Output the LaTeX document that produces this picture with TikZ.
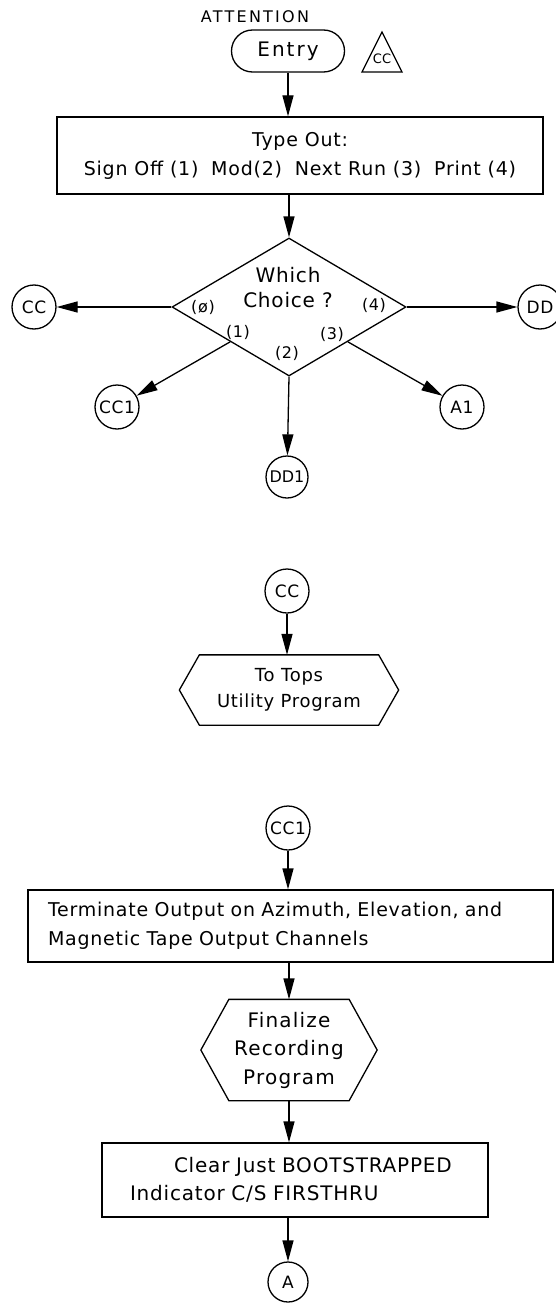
\documentclass[tikz,border=0pt]{standalone}
\usepackage{fontspec}
\setmainfont{DejaVu Sans}[LetterSpace=4]
\usetikzlibrary{arrows.meta,shapes.geometric,calc}
\begin{document}
\begin{tikzpicture}[x=1pt,y=-1pt,
  line width=1.3pt,
  flow/.style={-{Triangle[length=21pt,width=11pt]}},
  conn/.style={circle,draw,minimum size=44pt,inner sep=0pt,font=\fontsize{17}{19}\selectfont},
  procbox/.style={draw,rectangle,inner ysep=0pt},
  txt/.style={font=\fontsize{19}{29}\selectfont},
  lbl/.style={font=\fontsize{16}{18}\selectfont,inner sep=0pt}]
\useasboundingbox (0,0) rectangle (556,1303);

% ---- entry and type-out
\node[font=\fontsize{16}{18}\selectfont\addfontfeatures{LetterSpace=14}] (attn) at (255,17) {ATTENTION};
\node[draw,rounded corners=21pt,minimum width=113pt,minimum height=42pt,
      font=\fontsize{20}{22}\selectfont\addfontfeatures{LetterSpace=10}] (entry) at (288,51) {Entry};
\node[font=\fontsize{13}{15}\selectfont\addfontfeatures{LetterSpace=0},inner sep=0pt] (tri) at (382,59) {CC};
\draw (362,72) -- (382,32) -- (402,72) -- cycle;

\node[procbox,minimum width=486pt,minimum height=77pt,align=center,txt] (typeout) at (300,155.5)
  {Type Out:\\Sign Off (1)\hspace{6pt} Mod(2)\hspace{6pt} Next Run (3)\hspace{6pt} Print (4)};
\draw[flow] (entry) -- (entry |- typeout.north);

% ---- decision
\node[diamond,draw,minimum width=234pt,minimum height=138pt,inner sep=0pt] (choice) at (289,307) {};
\node[font=\fontsize{20}{25}\selectfont,align=center,inner sep=0pt] (q) at (288,288) {Which\\Choice ?};
\node[lbl] (l0) at (203,307) {(ø)};
\node[lbl] (l4) at (374,305) {(4)};
\node[lbl] (l1) at (238,332) {(1)};
\node[lbl] (l3) at (332,334) {(3)};
\node[lbl] (l2) at (287,353) {(2)};
\draw[flow] (typeout.south -| choice.north) -- (choice.north);

\node[conn] (cc0) at (34,307) {CC};
\node[conn] (dd0) at (540,307) {DD};
\node[conn] (cc1a) at (117,407) {CC1};
\node[conn] (a1) at (462,407) {A1};
\node[conn,minimum size=42pt,font=\fontsize{16}{18}\selectfont\addfontfeatures{LetterSpace=0}] (dd1) at (287,477) {DD1};
\draw[flow] (choice.west) -- (cc0);
\draw[flow] (choice.east) -- (dd0);
\draw[flow] ($(choice.west)!0.5!(choice.south)$) -- (cc1a);
\draw[flow] ($(choice.east)!0.5!(choice.south)$) -- (a1);
\draw[flow] (choice.south) -- (dd1);

% ---- CC: exit to utility program
\node[conn] (cc2) at (287,591) {CC};
\node[align=center,minimum width=178pt,minimum height=69pt,inner sep=0pt,
      font=\fontsize{18}{26}\selectfont] (tops) at (289,690) {To Tops\\Utility Program};
\draw (tops.north west) -- (tops.north east) -- ([xshift=20pt]tops.east)
  -- (tops.south east) -- (tops.south west) -- ([xshift=-20pt]tops.west) -- cycle;
\draw[flow] (cc2) -- (cc2 |- tops.north);

% ---- CC1: terminate and finalize
\node[conn] (cc1b) at (288,828) {CC1};
\node[procbox,minimum height=72pt,inner xsep=20pt,text width=485pt,align=left,txt] (term) at (290.5,926)
  {Terminate Output on Azimuth, Elevation, and\\Magnetic Tape Output Channels};
\draw[flow] (cc1b) -- (cc1b |- term.north);

\node[align=center,minimum width=119pt,minimum height=100pt,inner sep=0pt,
      font=\fontsize{20}{28.5}\selectfont\addfontfeatures{LetterSpace=6}] (final) at (289,1050) {Finalize\\Recording\\Program};
\draw (final.north west) -- (final.north east) -- ([xshift=28pt]final.east)
  -- (final.south east) -- (final.south west) -- ([xshift=-28pt]final.west) -- cycle;
\draw[flow] (term.south -| final.north) -- (final.north);

\node[procbox,minimum height=74pt,inner xsep=28pt,text width=330pt,align=left,
      font=\fontsize{20}{28}\selectfont] (clear) at (295,1180)
  {\hspace*{44pt}\makebox[0pt][l]{Clear Just BOOTSTRAPPED}\\Indicator C/S FIRSTHRU};
\draw[flow] (final.south) -- (final.south |- clear.north);

\node[conn,minimum size=40pt] (a) at (288,1282) {A};
\draw[flow] (clear.south -| a) -- (a);
\end{tikzpicture}
\end{document}
